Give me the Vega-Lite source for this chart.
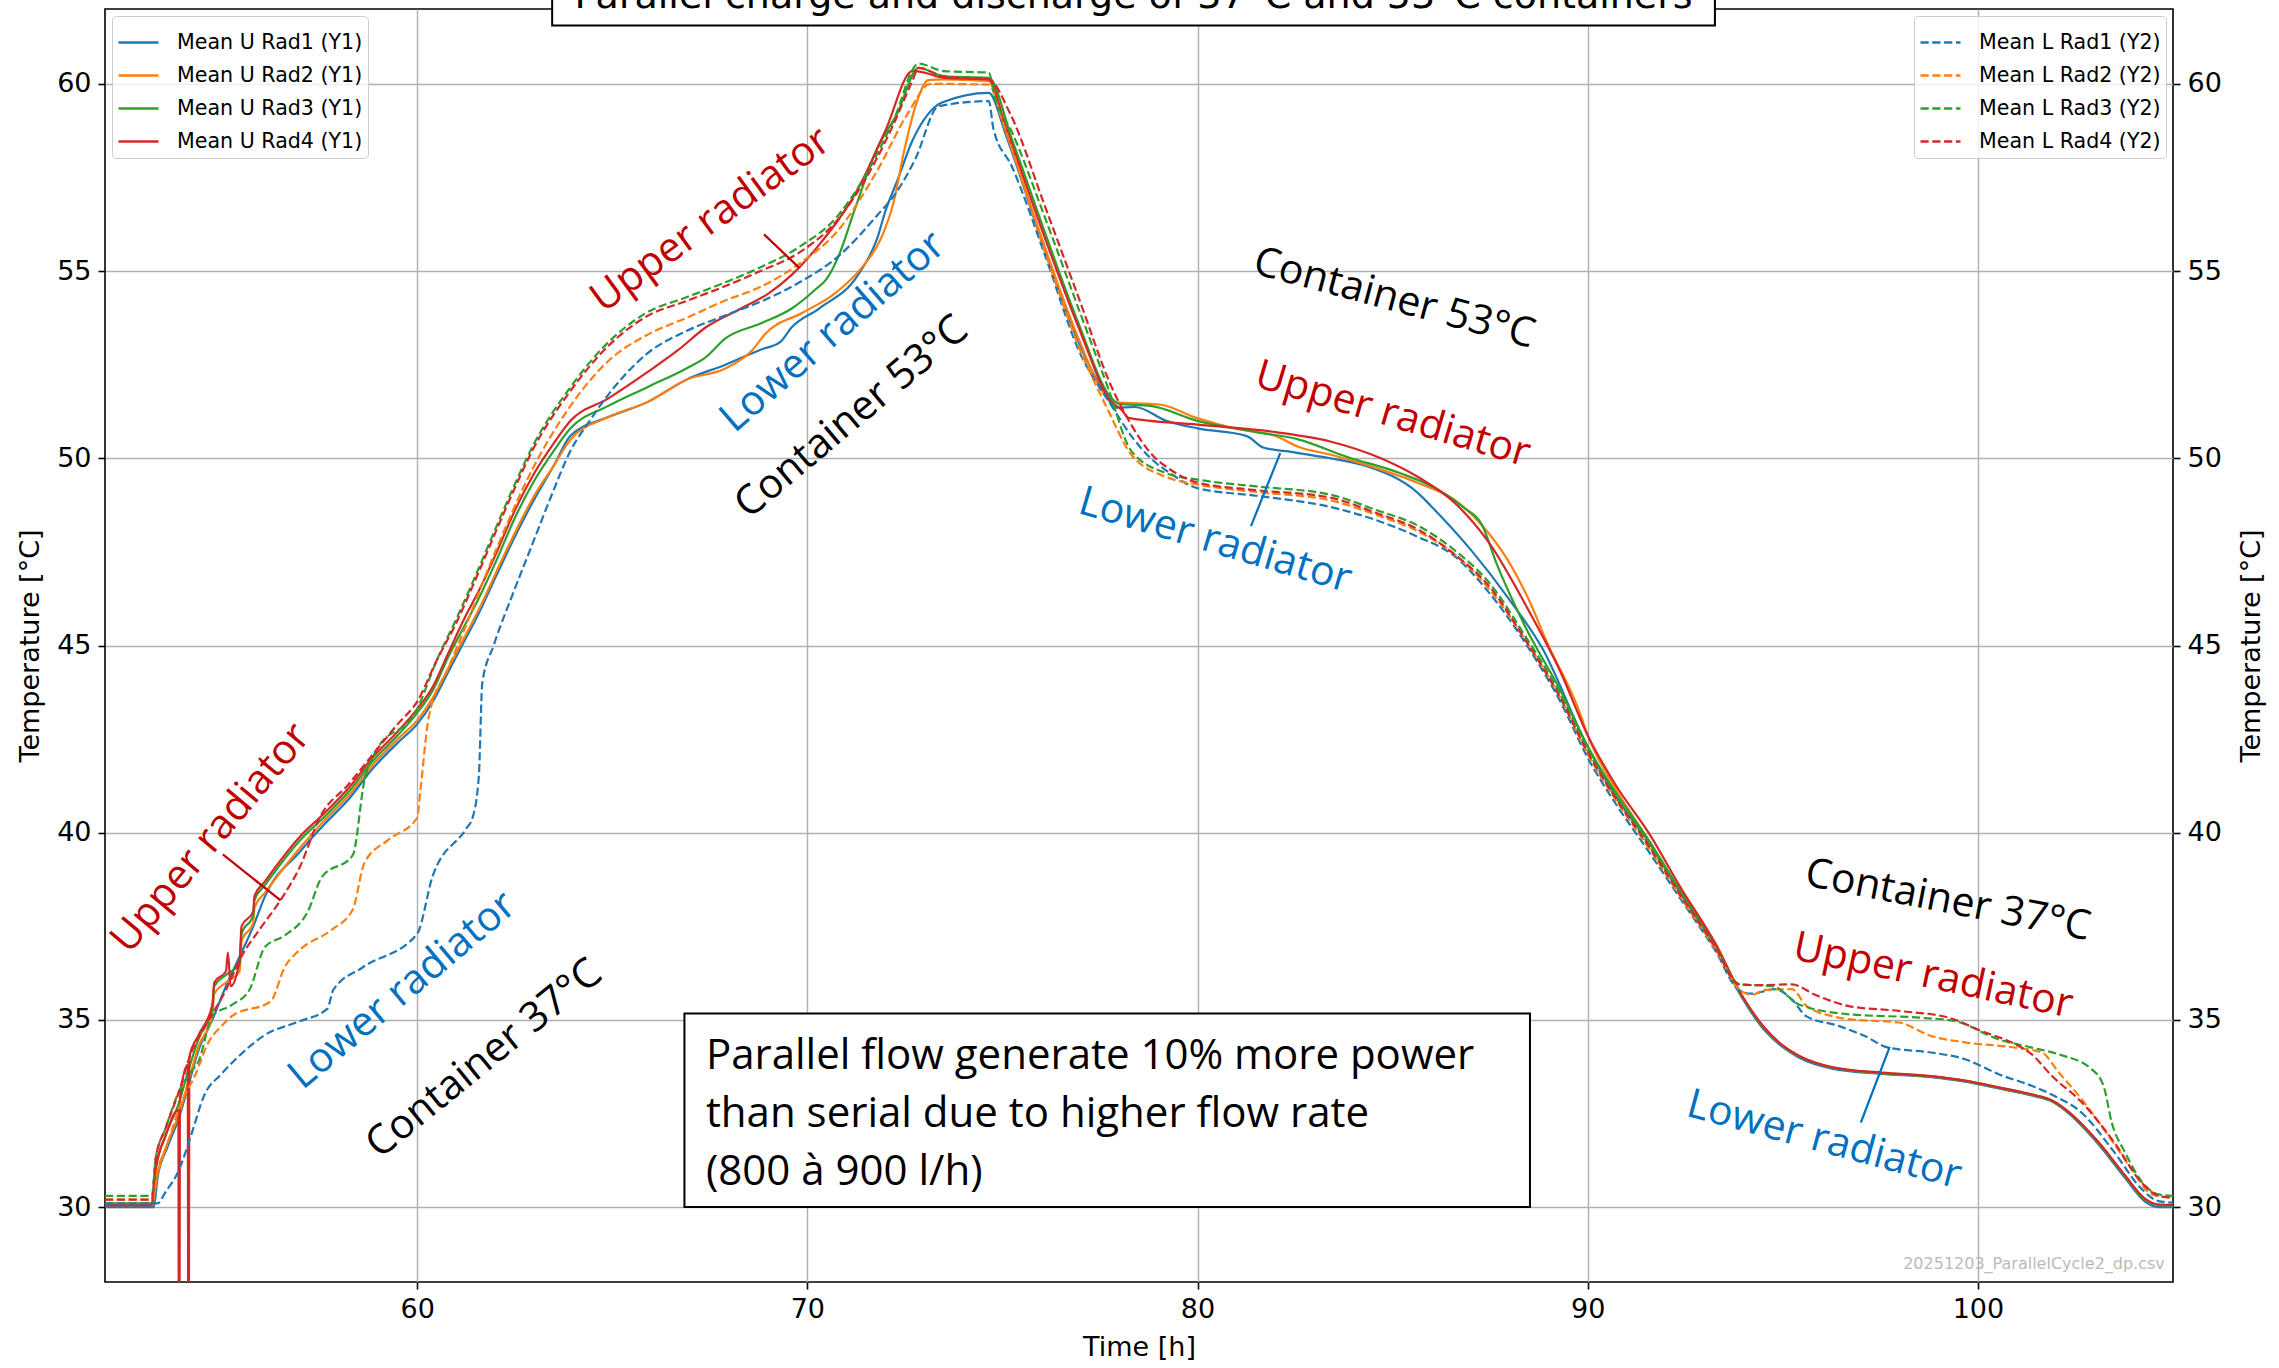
{
  "$schema": "https://vega.github.io/schema/vega-lite/v6.json",
  "width": 2068,
  "height": 1273,
  "autosize": {"type": "none"},
  "padding": {"left": 105, "top": 9, "right": 106, "bottom": 86},
  "background": "white",
  "config": {
    "view": {"stroke": "black", "strokeWidth": 1.6},
    "axis": {"labelFont": "DejaVu Sans", "titleFont": "DejaVu Sans", "labelFontSize": 27, "titleFontSize": 27, "titleFontWeight": "normal", "labelColor": "#000", "titleColor": "#000", "tickColor": "#000", "tickSize": 7, "tickWidth": 1.6, "domain": false, "gridColor": "#b0b0b0", "gridWidth": 1.4, "labelPadding": 7},
    "legend": {"labelFont": "DejaVu Sans", "labelFontSize": 20.6, "labelColor": "#000", "labelLimit": 0, "fillColor": "rgba(255,255,255,0.8)", "strokeColor": "#cccccc", "padding": 5, "cornerRadius": 4, "symbolType": "stroke", "symbolSize": 1600, "symbolStrokeWidth": 2.5, "labelOffset": 17, "rowPadding": -6, "offset": 7, "title": null}
  },
  "datasets": {
    "upper": [
      {"series":"Mean U Rad1 (Y1)","time":52,"temp":30.0},{"series":"Mean U Rad1 (Y1)","time":53.25,"temp":30.0},{"series":"Mean U Rad1 (Y1)","time":53.35,"temp":30.8},{"series":"Mean U Rad1 (Y1)","time":53.6,"temp":31.6},{"series":"Mean U Rad1 (Y1)","time":53.9,"temp":32.4},{"series":"Mean U Rad1 (Y1)","time":54.15,"temp":33.3},{"series":"Mean U Rad1 (Y1)","time":54.4,"temp":34.2},{"series":"Mean U Rad1 (Y1)","time":54.75,"temp":35.0},{"series":"Mean U Rad1 (Y1)","time":55.1,"temp":35.9},{"series":"Mean U Rad1 (Y1)","time":55.5,"temp":36.8},{"series":"Mean U Rad1 (Y1)","time":55.8,"temp":37.5},{"series":"Mean U Rad1 (Y1)","time":56.1,"temp":38.3},{"series":"Mean U Rad1 (Y1)","time":57.0,"temp":39.5},{"series":"Mean U Rad1 (Y1)","time":57.6,"temp":40.2},{"series":"Mean U Rad1 (Y1)","time":58.25,"temp":40.9},{"series":"Mean U Rad1 (Y1)","time":58.85,"temp":41.7},{"series":"Mean U Rad1 (Y1)","time":59.5,"temp":42.4},{"series":"Mean U Rad1 (Y1)","time":60.0,"temp":42.9},{"series":"Mean U Rad1 (Y1)","time":60.4,"temp":43.5},{"series":"Mean U Rad1 (Y1)","time":60.8,"temp":44.3},{"series":"Mean U Rad1 (Y1)","time":61.2,"temp":45.1},{"series":"Mean U Rad1 (Y1)","time":61.6,"temp":45.9},{"series":"Mean U Rad1 (Y1)","time":62.0,"temp":46.8},{"series":"Mean U Rad1 (Y1)","time":62.5,"temp":47.9},{"series":"Mean U Rad1 (Y1)","time":63.0,"temp":48.9},{"series":"Mean U Rad1 (Y1)","time":63.5,"temp":49.8},{"series":"Mean U Rad1 (Y1)","time":63.93,"temp":50.6},{"series":"Mean U Rad1 (Y1)","time":64.9,"temp":51.1},{"series":"Mean U Rad1 (Y1)","time":65.9,"temp":51.5},{"series":"Mean U Rad1 (Y1)","time":66.9,"temp":52.1},{"series":"Mean U Rad1 (Y1)","time":67.9,"temp":52.5},{"series":"Mean U Rad1 (Y1)","time":68.8,"temp":52.9},{"series":"Mean U Rad1 (Y1)","time":69.3,"temp":53.1},{"series":"Mean U Rad1 (Y1)","time":69.6,"temp":53.5},{"series":"Mean U Rad1 (Y1)","time":70.3,"temp":54.0},{"series":"Mean U Rad1 (Y1)","time":71.3,"temp":54.9},{"series":"Mean U Rad1 (Y1)","time":71.8,"temp":55.9},{"series":"Mean U Rad1 (Y1)","time":72.0,"temp":56.6},{"series":"Mean U Rad1 (Y1)","time":72.3,"temp":57.4},{"series":"Mean U Rad1 (Y1)","time":72.7,"temp":58.5},{"series":"Mean U Rad1 (Y1)","time":73.1,"temp":59.2},{"series":"Mean U Rad1 (Y1)","time":73.45,"temp":59.5},{"series":"Mean U Rad1 (Y1)","time":74.65,"temp":59.76},{"series":"Mean U Rad1 (Y1)","time":75.1,"temp":58.6},{"series":"Mean U Rad1 (Y1)","time":76.1,"temp":55.5},{"series":"Mean U Rad1 (Y1)","time":76.95,"temp":53.1},{"series":"Mean U Rad1 (Y1)","time":77.7,"temp":51.6},{"series":"Mean U Rad1 (Y1)","time":77.87,"temp":51.35},{"series":"Mean U Rad1 (Y1)","time":78.4,"temp":51.37},{"series":"Mean U Rad1 (Y1)","time":79.2,"temp":51.0},{"series":"Mean U Rad1 (Y1)","time":80.0,"temp":50.8},{"series":"Mean U Rad1 (Y1)","time":81.25,"temp":50.6},{"series":"Mean U Rad1 (Y1)","time":81.7,"temp":50.28},{"series":"Mean U Rad1 (Y1)","time":82.26,"temp":50.19},{"series":"Mean U Rad1 (Y1)","time":83.4,"temp":50.0},{"series":"Mean U Rad1 (Y1)","time":84.3,"temp":49.8},{"series":"Mean U Rad1 (Y1)","time":85.65,"temp":49.07},{"series":"Mean U Rad1 (Y1)","time":86.1,"temp":48.6},{"series":"Mean U Rad1 (Y1)","time":87.0,"temp":47.56},{"series":"Mean U Rad1 (Y1)","time":87.94,"temp":46.3},{"series":"Mean U Rad1 (Y1)","time":88.85,"temp":44.9},{"series":"Mean U Rad1 (Y1)","time":89.95,"temp":42.4},{"series":"Mean U Rad1 (Y1)","time":90.7,"temp":41.0},{"series":"Mean U Rad1 (Y1)","time":91.56,"temp":39.75},{"series":"Mean U Rad1 (Y1)","time":92.4,"temp":38.35},{"series":"Mean U Rad1 (Y1)","time":93.27,"temp":36.95},{"series":"Mean U Rad1 (Y1)","time":93.95,"temp":35.6},{"series":"Mean U Rad1 (Y1)","time":94.55,"temp":34.7},{"series":"Mean U Rad1 (Y1)","time":95.0,"temp":34.27},{"series":"Mean U Rad1 (Y1)","time":95.4,"temp":34.0},{"series":"Mean U Rad1 (Y1)","time":96.26,"temp":33.7},{"series":"Mean U Rad1 (Y1)","time":97.54,"temp":33.56},{"series":"Mean U Rad1 (Y1)","time":98.8,"temp":33.47},{"series":"Mean U Rad1 (Y1)","time":99.67,"temp":33.35},{"series":"Mean U Rad1 (Y1)","time":100.53,"temp":33.17},{"series":"Mean U Rad1 (Y1)","time":101.38,"temp":32.98},{"series":"Mean U Rad1 (Y1)","time":101.9,"temp":32.82},{"series":"Mean U Rad1 (Y1)","time":102.24,"temp":32.58},{"series":"Mean U Rad1 (Y1)","time":103.09,"temp":31.68},{"series":"Mean U Rad1 (Y1)","time":103.77,"temp":30.78},{"series":"Mean U Rad1 (Y1)","time":104.29,"temp":30.14},{"series":"Mean U Rad1 (Y1)","time":104.63,"temp":30.0},{"series":"Mean U Rad1 (Y1)","time":105.0,"temp":30.0},

      {"series":"Mean U Rad2 (Y1)","time":52,"temp":30.05},{"series":"Mean U Rad2 (Y1)","time":53.2,"temp":30.05},{"series":"Mean U Rad2 (Y1)","time":53.35,"temp":30.9},{"series":"Mean U Rad2 (Y1)","time":53.6,"temp":31.7},{"series":"Mean U Rad2 (Y1)","time":53.9,"temp":32.5},{"series":"Mean U Rad2 (Y1)","time":54.15,"temp":33.4},{"series":"Mean U Rad2 (Y1)","time":54.4,"temp":34.3},{"series":"Mean U Rad2 (Y1)","time":54.75,"temp":35.1},{"series":"Mean U Rad2 (Y1)","time":54.8,"temp":35.7},{"series":"Mean U Rad2 (Y1)","time":55.1,"temp":36.0},{"series":"Mean U Rad2 (Y1)","time":55.45,"temp":36.3},{"series":"Mean U Rad2 (Y1)","time":55.5,"temp":37.1},{"series":"Mean U Rad2 (Y1)","time":55.8,"temp":37.6},{"series":"Mean U Rad2 (Y1)","time":55.83,"temp":38.0},{"series":"Mean U Rad2 (Y1)","time":56.1,"temp":38.4},{"series":"Mean U Rad2 (Y1)","time":57.0,"temp":39.6},{"series":"Mean U Rad2 (Y1)","time":57.6,"temp":40.3},{"series":"Mean U Rad2 (Y1)","time":58.25,"temp":41.0},{"series":"Mean U Rad2 (Y1)","time":58.85,"temp":41.8},{"series":"Mean U Rad2 (Y1)","time":59.5,"temp":42.5},{"series":"Mean U Rad2 (Y1)","time":60.0,"temp":43.0},{"series":"Mean U Rad2 (Y1)","time":60.4,"temp":43.6},{"series":"Mean U Rad2 (Y1)","time":60.8,"temp":44.4},{"series":"Mean U Rad2 (Y1)","time":61.2,"temp":45.2},{"series":"Mean U Rad2 (Y1)","time":61.6,"temp":46.0},{"series":"Mean U Rad2 (Y1)","time":62.0,"temp":46.9},{"series":"Mean U Rad2 (Y1)","time":62.5,"temp":48.0},{"series":"Mean U Rad2 (Y1)","time":63.0,"temp":49.0},{"series":"Mean U Rad2 (Y1)","time":63.5,"temp":49.8},{"series":"Mean U Rad2 (Y1)","time":63.93,"temp":50.5},{"series":"Mean U Rad2 (Y1)","time":64.9,"temp":51.1},{"series":"Mean U Rad2 (Y1)","time":65.9,"temp":51.5},{"series":"Mean U Rad2 (Y1)","time":66.9,"temp":52.1},{"series":"Mean U Rad2 (Y1)","time":67.9,"temp":52.4},{"series":"Mean U Rad2 (Y1)","time":68.6,"temp":52.9},{"series":"Mean U Rad2 (Y1)","time":68.9,"temp":53.3},{"series":"Mean U Rad2 (Y1)","time":69.9,"temp":53.9},{"series":"Mean U Rad2 (Y1)","time":70.7,"temp":54.4},{"series":"Mean U Rad2 (Y1)","time":71.4,"temp":55.1},{"series":"Mean U Rad2 (Y1)","time":71.9,"temp":55.9},{"series":"Mean U Rad2 (Y1)","time":72.2,"temp":56.8},{"series":"Mean U Rad2 (Y1)","time":72.5,"temp":58.3},{"series":"Mean U Rad2 (Y1)","time":72.8,"temp":59.5},{"series":"Mean U Rad2 (Y1)","time":73.1,"temp":60.1},{"series":"Mean U Rad2 (Y1)","time":73.5,"temp":60.12},{"series":"Mean U Rad2 (Y1)","time":74.65,"temp":60.07},{"series":"Mean U Rad2 (Y1)","time":75.1,"temp":58.7},{"series":"Mean U Rad2 (Y1)","time":76.1,"temp":55.6},{"series":"Mean U Rad2 (Y1)","time":76.95,"temp":53.2},{"series":"Mean U Rad2 (Y1)","time":77.7,"temp":51.6},{"series":"Mean U Rad2 (Y1)","time":77.87,"temp":51.5},{"series":"Mean U Rad2 (Y1)","time":79.06,"temp":51.43},{"series":"Mean U Rad2 (Y1)","time":79.97,"temp":51.08},{"series":"Mean U Rad2 (Y1)","time":81.07,"temp":50.77},{"series":"Mean U Rad2 (Y1)","time":81.99,"temp":50.6},{"series":"Mean U Rad2 (Y1)","time":82.6,"temp":50.3},{"series":"Mean U Rad2 (Y1)","time":83.4,"temp":50.1},{"series":"Mean U Rad2 (Y1)","time":84.3,"temp":49.83},{"series":"Mean U Rad2 (Y1)","time":85.65,"temp":49.34},{"series":"Mean U Rad2 (Y1)","time":86.57,"temp":48.9},{"series":"Mean U Rad2 (Y1)","time":87.3,"temp":48.2},{"series":"Mean U Rad2 (Y1)","time":87.94,"temp":47.3},{"series":"Mean U Rad2 (Y1)","time":88.5,"temp":46.2},{"series":"Mean U Rad2 (Y1)","time":88.95,"temp":45.1},{"series":"Mean U Rad2 (Y1)","time":89.8,"temp":43.2},{"series":"Mean U Rad2 (Y1)","time":90.0,"temp":42.6},{"series":"Mean U Rad2 (Y1)","time":90.7,"temp":41.2},{"series":"Mean U Rad2 (Y1)","time":91.56,"temp":39.8},{"series":"Mean U Rad2 (Y1)","time":92.4,"temp":38.4},{"series":"Mean U Rad2 (Y1)","time":93.27,"temp":37.0},{"series":"Mean U Rad2 (Y1)","time":93.95,"temp":35.64},{"series":"Mean U Rad2 (Y1)","time":94.55,"temp":34.75},{"series":"Mean U Rad2 (Y1)","time":95.0,"temp":34.3},{"series":"Mean U Rad2 (Y1)","time":95.4,"temp":34.04},{"series":"Mean U Rad2 (Y1)","time":96.26,"temp":33.73},{"series":"Mean U Rad2 (Y1)","time":97.54,"temp":33.58},{"series":"Mean U Rad2 (Y1)","time":98.8,"temp":33.49},{"series":"Mean U Rad2 (Y1)","time":99.67,"temp":33.37},{"series":"Mean U Rad2 (Y1)","time":100.53,"temp":33.19},{"series":"Mean U Rad2 (Y1)","time":101.38,"temp":33.0},{"series":"Mean U Rad2 (Y1)","time":101.9,"temp":32.84},{"series":"Mean U Rad2 (Y1)","time":102.24,"temp":32.6},{"series":"Mean U Rad2 (Y1)","time":103.09,"temp":31.72},{"series":"Mean U Rad2 (Y1)","time":103.77,"temp":30.83},{"series":"Mean U Rad2 (Y1)","time":104.29,"temp":30.2},{"series":"Mean U Rad2 (Y1)","time":104.63,"temp":30.06},{"series":"Mean U Rad2 (Y1)","time":105.0,"temp":30.05},

      {"series":"Mean U Rad3 (Y1)","time":52,"temp":30.1},{"series":"Mean U Rad3 (Y1)","time":53.2,"temp":30.1},{"series":"Mean U Rad3 (Y1)","time":53.3,"temp":31.0},{"series":"Mean U Rad3 (Y1)","time":53.55,"temp":31.9},{"series":"Mean U Rad3 (Y1)","time":53.9,"temp":32.8},{"series":"Mean U Rad3 (Y1)","time":54.15,"temp":33.7},{"series":"Mean U Rad3 (Y1)","time":54.4,"temp":34.5},{"series":"Mean U Rad3 (Y1)","time":54.75,"temp":35.3},{"series":"Mean U Rad3 (Y1)","time":54.8,"temp":35.9},{"series":"Mean U Rad3 (Y1)","time":55.1,"temp":36.2},{"series":"Mean U Rad3 (Y1)","time":55.45,"temp":36.5},{"series":"Mean U Rad3 (Y1)","time":55.5,"temp":37.3},{"series":"Mean U Rad3 (Y1)","time":55.8,"temp":37.8},{"series":"Mean U Rad3 (Y1)","time":55.83,"temp":38.2},{"series":"Mean U Rad3 (Y1)","time":56.1,"temp":38.6},{"series":"Mean U Rad3 (Y1)","time":57.0,"temp":39.8},{"series":"Mean U Rad3 (Y1)","time":57.6,"temp":40.4},{"series":"Mean U Rad3 (Y1)","time":58.25,"temp":41.1},{"series":"Mean U Rad3 (Y1)","time":58.85,"temp":41.9},{"series":"Mean U Rad3 (Y1)","time":59.5,"temp":42.6},{"series":"Mean U Rad3 (Y1)","time":60.0,"temp":43.2},{"series":"Mean U Rad3 (Y1)","time":60.4,"temp":43.8},{"series":"Mean U Rad3 (Y1)","time":60.8,"temp":44.7},{"series":"Mean U Rad3 (Y1)","time":61.2,"temp":45.5},{"series":"Mean U Rad3 (Y1)","time":61.6,"temp":46.3},{"series":"Mean U Rad3 (Y1)","time":62.0,"temp":47.2},{"series":"Mean U Rad3 (Y1)","time":62.5,"temp":48.4},{"series":"Mean U Rad3 (Y1)","time":63.0,"temp":49.4},{"series":"Mean U Rad3 (Y1)","time":63.5,"temp":50.2},{"series":"Mean U Rad3 (Y1)","time":63.93,"temp":50.8},{"series":"Mean U Rad3 (Y1)","time":64.9,"temp":51.4},{"series":"Mean U Rad3 (Y1)","time":65.9,"temp":51.9},{"series":"Mean U Rad3 (Y1)","time":66.9,"temp":52.4},{"series":"Mean U Rad3 (Y1)","time":67.4,"temp":52.7},{"series":"Mean U Rad3 (Y1)","time":67.9,"temp":53.2},{"series":"Mean U Rad3 (Y1)","time":68.8,"temp":53.6},{"series":"Mean U Rad3 (Y1)","time":69.6,"temp":54.0},{"series":"Mean U Rad3 (Y1)","time":70.2,"temp":54.5},{"series":"Mean U Rad3 (Y1)","time":70.5,"temp":54.8},{"series":"Mean U Rad3 (Y1)","time":70.8,"temp":55.4},{"series":"Mean U Rad3 (Y1)","time":71.2,"temp":56.6},{"series":"Mean U Rad3 (Y1)","time":71.8,"temp":58.3},{"series":"Mean U Rad3 (Y1)","time":72.3,"temp":59.2},{"series":"Mean U Rad3 (Y1)","time":72.85,"temp":60.43},{"series":"Mean U Rad3 (Y1)","time":73.5,"temp":60.2},{"series":"Mean U Rad3 (Y1)","time":74.65,"temp":60.16},{"series":"Mean U Rad3 (Y1)","time":75.25,"temp":58.5},{"series":"Mean U Rad3 (Y1)","time":76.1,"temp":56.0},{"series":"Mean U Rad3 (Y1)","time":76.95,"temp":53.6},{"series":"Mean U Rad3 (Y1)","time":77.8,"temp":51.6},{"series":"Mean U Rad3 (Y1)","time":78.0,"temp":51.45},{"series":"Mean U Rad3 (Y1)","time":78.8,"temp":51.4},{"series":"Mean U Rad3 (Y1)","time":80.0,"temp":51.0},{"series":"Mean U Rad3 (Y1)","time":81.5,"temp":50.7},{"series":"Mean U Rad3 (Y1)","time":82.6,"temp":50.5},{"series":"Mean U Rad3 (Y1)","time":83.8,"temp":50.05},{"series":"Mean U Rad3 (Y1)","time":85.2,"temp":49.6},{"series":"Mean U Rad3 (Y1)","time":86.1,"temp":49.2},{"series":"Mean U Rad3 (Y1)","time":86.8,"temp":48.7},{"series":"Mean U Rad3 (Y1)","time":87.3,"temp":48.2},{"series":"Mean U Rad3 (Y1)","time":87.66,"temp":47.2},{"series":"Mean U Rad3 (Y1)","time":88.4,"temp":45.5},{"series":"Mean U Rad3 (Y1)","time":89.3,"temp":43.8},{"series":"Mean U Rad3 (Y1)","time":90.0,"temp":42.3},{"series":"Mean U Rad3 (Y1)","time":90.7,"temp":41.1},{"series":"Mean U Rad3 (Y1)","time":91.56,"temp":39.8},{"series":"Mean U Rad3 (Y1)","time":92.4,"temp":38.4},{"series":"Mean U Rad3 (Y1)","time":93.27,"temp":37.0},{"series":"Mean U Rad3 (Y1)","time":93.95,"temp":35.64},{"series":"Mean U Rad3 (Y1)","time":94.55,"temp":34.75},{"series":"Mean U Rad3 (Y1)","time":95.0,"temp":34.3},{"series":"Mean U Rad3 (Y1)","time":95.4,"temp":34.04},{"series":"Mean U Rad3 (Y1)","time":96.26,"temp":33.73},{"series":"Mean U Rad3 (Y1)","time":97.54,"temp":33.58},{"series":"Mean U Rad3 (Y1)","time":98.8,"temp":33.49},{"series":"Mean U Rad3 (Y1)","time":99.67,"temp":33.37},{"series":"Mean U Rad3 (Y1)","time":100.53,"temp":33.19},{"series":"Mean U Rad3 (Y1)","time":101.38,"temp":33.0},{"series":"Mean U Rad3 (Y1)","time":101.9,"temp":32.84},{"series":"Mean U Rad3 (Y1)","time":102.24,"temp":32.6},{"series":"Mean U Rad3 (Y1)","time":103.09,"temp":31.72},{"series":"Mean U Rad3 (Y1)","time":103.77,"temp":30.83},{"series":"Mean U Rad3 (Y1)","time":104.29,"temp":30.2},{"series":"Mean U Rad3 (Y1)","time":104.63,"temp":30.06},{"series":"Mean U Rad3 (Y1)","time":105.0,"temp":30.05},

      {"series":"Mean U Rad4 (Y1)","time":52,"temp":30.05},{"series":"Mean U Rad4 (Y1)","time":53.2,"temp":30.05},{"series":"Mean U Rad4 (Y1)","time":53.3,"temp":31.0},{"series":"Mean U Rad4 (Y1)","time":53.55,"temp":31.9},{"series":"Mean U Rad4 (Y1)","time":53.88,"temp":32.6},{"series":"Mean U Rad4 (Y1)","time":53.9,"temp":20},{"series":"Mean U Rad4 (Y1)","time":53.92,"temp":32.9},{"series":"Mean U Rad4 (Y1)","time":54.12,"temp":33.8},{"series":"Mean U Rad4 (Y1)","time":54.14,"temp":20},{"series":"Mean U Rad4 (Y1)","time":54.16,"temp":34.0},{"series":"Mean U Rad4 (Y1)","time":54.4,"temp":34.6},{"series":"Mean U Rad4 (Y1)","time":54.75,"temp":35.4},{"series":"Mean U Rad4 (Y1)","time":54.8,"temp":36.0},{"series":"Mean U Rad4 (Y1)","time":55.1,"temp":36.3},{"series":"Mean U Rad4 (Y1)","time":55.15,"temp":36.8},{"series":"Mean U Rad4 (Y1)","time":55.22,"temp":35.9},{"series":"Mean U Rad4 (Y1)","time":55.45,"temp":36.6},{"series":"Mean U Rad4 (Y1)","time":55.5,"temp":37.5},{"series":"Mean U Rad4 (Y1)","time":55.8,"temp":37.9},{"series":"Mean U Rad4 (Y1)","time":55.83,"temp":38.3},{"series":"Mean U Rad4 (Y1)","time":56.1,"temp":38.7},{"series":"Mean U Rad4 (Y1)","time":57.0,"temp":39.9},{"series":"Mean U Rad4 (Y1)","time":57.6,"temp":40.5},{"series":"Mean U Rad4 (Y1)","time":58.25,"temp":41.2},{"series":"Mean U Rad4 (Y1)","time":58.85,"temp":42.0},{"series":"Mean U Rad4 (Y1)","time":59.5,"temp":42.7},{"series":"Mean U Rad4 (Y1)","time":60.0,"temp":43.3},{"series":"Mean U Rad4 (Y1)","time":60.4,"temp":43.9},{"series":"Mean U Rad4 (Y1)","time":60.8,"temp":44.8},{"series":"Mean U Rad4 (Y1)","time":61.2,"temp":45.7},{"series":"Mean U Rad4 (Y1)","time":61.6,"temp":46.5},{"series":"Mean U Rad4 (Y1)","time":62.0,"temp":47.4},{"series":"Mean U Rad4 (Y1)","time":62.5,"temp":48.6},{"series":"Mean U Rad4 (Y1)","time":63.0,"temp":49.6},{"series":"Mean U Rad4 (Y1)","time":63.5,"temp":50.4},{"series":"Mean U Rad4 (Y1)","time":63.93,"temp":51.0},{"series":"Mean U Rad4 (Y1)","time":64.9,"temp":51.6},{"series":"Mean U Rad4 (Y1)","time":65.9,"temp":52.3},{"series":"Mean U Rad4 (Y1)","time":66.7,"temp":52.9},{"series":"Mean U Rad4 (Y1)","time":67.4,"temp":53.5},{"series":"Mean U Rad4 (Y1)","time":68.3,"temp":54.0},{"series":"Mean U Rad4 (Y1)","time":69.0,"temp":54.4},{"series":"Mean U Rad4 (Y1)","time":69.6,"temp":54.9},{"series":"Mean U Rad4 (Y1)","time":70.3,"temp":55.7},{"series":"Mean U Rad4 (Y1)","time":71.3,"temp":57.2},{"series":"Mean U Rad4 (Y1)","time":72.0,"temp":58.75},{"series":"Mean U Rad4 (Y1)","time":72.7,"temp":60.35},{"series":"Mean U Rad4 (Y1)","time":73.0,"temp":60.3},{"series":"Mean U Rad4 (Y1)","time":73.5,"temp":60.16},{"series":"Mean U Rad4 (Y1)","time":74.65,"temp":60.12},{"series":"Mean U Rad4 (Y1)","time":75.07,"temp":58.9},{"series":"Mean U Rad4 (Y1)","time":76.1,"temp":55.85},{"series":"Mean U Rad4 (Y1)","time":76.95,"temp":53.5},{"series":"Mean U Rad4 (Y1)","time":77.8,"temp":51.5},{"series":"Mean U Rad4 (Y1)","time":78.05,"temp":51.3},{"series":"Mean U Rad4 (Y1)","time":78.23,"temp":51.08},{"series":"Mean U Rad4 (Y1)","time":80.0,"temp":50.9},{"series":"Mean U Rad4 (Y1)","time":82.0,"temp":50.7},{"series":"Mean U Rad4 (Y1)","time":83.4,"temp":50.45},{"series":"Mean U Rad4 (Y1)","time":84.7,"temp":50.0},{"series":"Mean U Rad4 (Y1)","time":85.65,"temp":49.5},{"series":"Mean U Rad4 (Y1)","time":86.6,"temp":48.8},{"series":"Mean U Rad4 (Y1)","time":87.5,"temp":47.7},{"series":"Mean U Rad4 (Y1)","time":88.4,"temp":46.1},{"series":"Mean U Rad4 (Y1)","time":89.3,"temp":44.3},{"series":"Mean U Rad4 (Y1)","time":90.0,"temp":42.6},{"series":"Mean U Rad4 (Y1)","time":90.7,"temp":41.3},{"series":"Mean U Rad4 (Y1)","time":91.56,"temp":40.0},{"series":"Mean U Rad4 (Y1)","time":92.4,"temp":38.5},{"series":"Mean U Rad4 (Y1)","time":93.27,"temp":37.05},{"series":"Mean U Rad4 (Y1)","time":93.95,"temp":35.66},{"series":"Mean U Rad4 (Y1)","time":94.55,"temp":34.77},{"series":"Mean U Rad4 (Y1)","time":95.0,"temp":34.32},{"series":"Mean U Rad4 (Y1)","time":95.4,"temp":34.05},{"series":"Mean U Rad4 (Y1)","time":96.26,"temp":33.74},{"series":"Mean U Rad4 (Y1)","time":97.54,"temp":33.59},{"series":"Mean U Rad4 (Y1)","time":98.8,"temp":33.5},{"series":"Mean U Rad4 (Y1)","time":99.67,"temp":33.38},{"series":"Mean U Rad4 (Y1)","time":100.53,"temp":33.2},{"series":"Mean U Rad4 (Y1)","time":101.38,"temp":33.01},{"series":"Mean U Rad4 (Y1)","time":101.9,"temp":32.85},{"series":"Mean U Rad4 (Y1)","time":102.24,"temp":32.62},{"series":"Mean U Rad4 (Y1)","time":103.09,"temp":31.74},{"series":"Mean U Rad4 (Y1)","time":103.77,"temp":30.85},{"series":"Mean U Rad4 (Y1)","time":104.29,"temp":30.22},{"series":"Mean U Rad4 (Y1)","time":104.63,"temp":30.07},{"series":"Mean U Rad4 (Y1)","time":105.0,"temp":30.06}
    ],
    "lower": [
      {"series":"Mean L Rad1 (Y2)","time":52,"temp":30.1},{"series":"Mean L Rad1 (Y2)","time":53.35,"temp":30.1},{"series":"Mean L Rad1 (Y2)","time":53.55,"temp":30.4},{"series":"Mean L Rad1 (Y2)","time":53.9,"temp":31.0},{"series":"Mean L Rad1 (Y2)","time":54.2,"temp":31.9},{"series":"Mean L Rad1 (Y2)","time":54.55,"temp":33.0},{"series":"Mean L Rad1 (Y2)","time":54.98,"temp":33.55},{"series":"Mean L Rad1 (Y2)","time":55.4,"temp":34.0},{"series":"Mean L Rad1 (Y2)","time":56.1,"temp":34.6},{"series":"Mean L Rad1 (Y2)","time":56.95,"temp":34.95},{"series":"Mean L Rad1 (Y2)","time":57.7,"temp":35.3},{"series":"Mean L Rad1 (Y2)","time":57.85,"temp":35.8},{"series":"Mean L Rad1 (Y2)","time":58.6,"temp":36.4},{"series":"Mean L Rad1 (Y2)","time":60.0,"temp":37.3},{"series":"Mean L Rad1 (Y2)","time":60.4,"temp":38.85},{"series":"Mean L Rad1 (Y2)","time":61.25,"temp":40.1},{"series":"Mean L Rad1 (Y2)","time":61.42,"temp":40.4},{"series":"Mean L Rad1 (Y2)","time":61.58,"temp":41.5},{"series":"Mean L Rad1 (Y2)","time":61.67,"temp":44.0},{"series":"Mean L Rad1 (Y2)","time":61.96,"temp":45.0},{"series":"Mean L Rad1 (Y2)","time":62.46,"temp":46.4},{"series":"Mean L Rad1 (Y2)","time":62.95,"temp":47.7},{"series":"Mean L Rad1 (Y2)","time":63.44,"temp":49.0},{"series":"Mean L Rad1 (Y2)","time":63.93,"temp":50.2},{"series":"Mean L Rad1 (Y2)","time":64.42,"temp":51.0},{"series":"Mean L Rad1 (Y2)","time":64.9,"temp":51.7},{"series":"Mean L Rad1 (Y2)","time":65.9,"temp":52.8},{"series":"Mean L Rad1 (Y2)","time":66.9,"temp":53.4},{"series":"Mean L Rad1 (Y2)","time":67.86,"temp":53.8},{"series":"Mean L Rad1 (Y2)","time":68.84,"temp":54.2},{"series":"Mean L Rad1 (Y2)","time":69.8,"temp":54.7},{"series":"Mean L Rad1 (Y2)","time":70.8,"temp":55.4},{"series":"Mean L Rad1 (Y2)","time":71.8,"temp":56.5},{"series":"Mean L Rad1 (Y2)","time":72.28,"temp":57.1},{"series":"Mean L Rad1 (Y2)","time":72.77,"temp":58.0},{"series":"Mean L Rad1 (Y2)","time":73.36,"temp":59.4},{"series":"Mean L Rad1 (Y2)","time":74.65,"temp":59.54},{"series":"Mean L Rad1 (Y2)","time":74.77,"temp":58.8},{"series":"Mean L Rad1 (Y2)","time":75.24,"temp":57.8},{"series":"Mean L Rad1 (Y2)","time":76.1,"temp":55.4},{"series":"Mean L Rad1 (Y2)","time":76.95,"temp":52.9},{"series":"Mean L Rad1 (Y2)","time":77.8,"temp":51.4},{"series":"Mean L Rad1 (Y2)","time":78.3,"temp":50.6},{"series":"Mean L Rad1 (Y2)","time":78.8,"temp":50.0},{"series":"Mean L Rad1 (Y2)","time":79.3,"temp":49.6},{"series":"Mean L Rad1 (Y2)","time":80.0,"temp":49.2},{"series":"Mean L Rad1 (Y2)","time":81.5,"temp":49.0},{"series":"Mean L Rad1 (Y2)","time":83.4,"temp":48.7},{"series":"Mean L Rad1 (Y2)","time":84.55,"temp":48.36},{"series":"Mean L Rad1 (Y2)","time":85.65,"temp":47.9},{"series":"Mean L Rad1 (Y2)","time":86.57,"temp":47.4},{"series":"Mean L Rad1 (Y2)","time":87.48,"temp":46.4},{"series":"Mean L Rad1 (Y2)","time":88.4,"temp":45.07},{"series":"Mean L Rad1 (Y2)","time":89.3,"temp":43.5},{"series":"Mean L Rad1 (Y2)","time":90.0,"temp":42.0},{"series":"Mean L Rad1 (Y2)","time":90.7,"temp":40.8},{"series":"Mean L Rad1 (Y2)","time":91.56,"temp":39.5},{"series":"Mean L Rad1 (Y2)","time":92.4,"temp":38.2},{"series":"Mean L Rad1 (Y2)","time":93.27,"temp":36.85},{"series":"Mean L Rad1 (Y2)","time":93.87,"temp":35.8},{"series":"Mean L Rad1 (Y2)","time":94.2,"temp":35.7},{"series":"Mean L Rad1 (Y2)","time":94.8,"temp":35.82},{"series":"Mean L Rad1 (Y2)","time":95.23,"temp":35.55},{"series":"Mean L Rad1 (Y2)","time":95.6,"temp":35.1},{"series":"Mean L Rad1 (Y2)","time":96.43,"temp":34.84},{"series":"Mean L Rad1 (Y2)","time":97.1,"temp":34.57},{"series":"Mean L Rad1 (Y2)","time":97.7,"temp":34.26},{"series":"Mean L Rad1 (Y2)","time":98.8,"temp":34.13},{"series":"Mean L Rad1 (Y2)","time":99.67,"temp":33.95},{"series":"Mean L Rad1 (Y2)","time":100.53,"temp":33.55},{"series":"Mean L Rad1 (Y2)","time":101.38,"temp":33.24},{"series":"Mean L Rad1 (Y2)","time":101.9,"temp":33.0},{"series":"Mean L Rad1 (Y2)","time":102.66,"temp":32.52},{"series":"Mean L Rad1 (Y2)","time":103.5,"temp":31.46},{"series":"Mean L Rad1 (Y2)","time":104.2,"temp":30.48},{"series":"Mean L Rad1 (Y2)","time":104.63,"temp":30.16},{"series":"Mean L Rad1 (Y2)","time":105.0,"temp":30.12},

      {"series":"Mean L Rad2 (Y2)","time":52,"temp":30.2},{"series":"Mean L Rad2 (Y2)","time":53.2,"temp":30.2},{"series":"Mean L Rad2 (Y2)","time":53.35,"temp":31.0},{"series":"Mean L Rad2 (Y2)","time":53.55,"temp":31.55},{"series":"Mean L Rad2 (Y2)","time":53.98,"temp":32.85},{"series":"Mean L Rad2 (Y2)","time":54.3,"temp":33.5},{"series":"Mean L Rad2 (Y2)","time":54.65,"temp":34.4},{"series":"Mean L Rad2 (Y2)","time":55.0,"temp":34.85},{"series":"Mean L Rad2 (Y2)","time":55.25,"temp":35.1},{"series":"Mean L Rad2 (Y2)","time":56.25,"temp":35.5},{"series":"Mean L Rad2 (Y2)","time":56.6,"temp":36.4},{"series":"Mean L Rad2 (Y2)","time":56.97,"temp":36.85},{"series":"Mean L Rad2 (Y2)","time":57.8,"temp":37.4},{"series":"Mean L Rad2 (Y2)","time":58.35,"temp":37.95},{"series":"Mean L Rad2 (Y2)","time":58.65,"temp":39.2},{"series":"Mean L Rad2 (Y2)","time":59.25,"temp":39.8},{"series":"Mean L Rad2 (Y2)","time":60.0,"temp":40.4},{"series":"Mean L Rad2 (Y2)","time":60.08,"temp":41.1},{"series":"Mean L Rad2 (Y2)","time":60.3,"temp":43.1},{"series":"Mean L Rad2 (Y2)","time":60.8,"temp":44.4},{"series":"Mean L Rad2 (Y2)","time":61.2,"temp":45.4},{"series":"Mean L Rad2 (Y2)","time":61.96,"temp":47.4},{"series":"Mean L Rad2 (Y2)","time":62.95,"temp":49.7},{"series":"Mean L Rad2 (Y2)","time":63.93,"temp":51.4},{"series":"Mean L Rad2 (Y2)","time":64.9,"temp":52.6},{"series":"Mean L Rad2 (Y2)","time":65.9,"temp":53.3},{"series":"Mean L Rad2 (Y2)","time":66.9,"temp":53.75},{"series":"Mean L Rad2 (Y2)","time":67.86,"temp":54.2},{"series":"Mean L Rad2 (Y2)","time":68.84,"temp":54.6},{"series":"Mean L Rad2 (Y2)","time":69.8,"temp":55.2},{"series":"Mean L Rad2 (Y2)","time":70.8,"temp":56.1},{"series":"Mean L Rad2 (Y2)","time":71.8,"temp":57.7},{"series":"Mean L Rad2 (Y2)","time":72.57,"temp":59.2},{"series":"Mean L Rad2 (Y2)","time":73.16,"temp":60.0},{"series":"Mean L Rad2 (Y2)","time":74.65,"temp":59.98},{"series":"Mean L Rad2 (Y2)","time":75.0,"temp":59.0},{"series":"Mean L Rad2 (Y2)","time":76.1,"temp":55.5},{"series":"Mean L Rad2 (Y2)","time":76.95,"temp":53.0},{"series":"Mean L Rad2 (Y2)","time":77.7,"temp":51.3},{"series":"Mean L Rad2 (Y2)","time":78.3,"temp":50.1},{"series":"Mean L Rad2 (Y2)","time":79.2,"temp":49.5},{"series":"Mean L Rad2 (Y2)","time":80.0,"temp":49.3},{"series":"Mean L Rad2 (Y2)","time":81.5,"temp":49.1},{"series":"Mean L Rad2 (Y2)","time":83.4,"temp":48.88},{"series":"Mean L Rad2 (Y2)","time":84.55,"temp":48.5},{"series":"Mean L Rad2 (Y2)","time":85.65,"temp":48.05},{"series":"Mean L Rad2 (Y2)","time":86.57,"temp":47.45},{"series":"Mean L Rad2 (Y2)","time":87.48,"temp":46.5},{"series":"Mean L Rad2 (Y2)","time":88.4,"temp":45.15},{"series":"Mean L Rad2 (Y2)","time":89.3,"temp":43.6},{"series":"Mean L Rad2 (Y2)","time":90.0,"temp":42.1},{"series":"Mean L Rad2 (Y2)","time":90.7,"temp":40.9},{"series":"Mean L Rad2 (Y2)","time":91.56,"temp":39.6},{"series":"Mean L Rad2 (Y2)","time":92.4,"temp":38.25},{"series":"Mean L Rad2 (Y2)","time":93.27,"temp":36.9},{"series":"Mean L Rad2 (Y2)","time":93.9,"temp":35.8},{"series":"Mean L Rad2 (Y2)","time":94.2,"temp":35.67},{"series":"Mean L Rad2 (Y2)","time":94.55,"temp":35.8},{"series":"Mean L Rad2 (Y2)","time":95.23,"temp":35.82},{"series":"Mean L Rad2 (Y2)","time":95.6,"temp":35.38},{"series":"Mean L Rad2 (Y2)","time":96.26,"temp":35.1},{"series":"Mean L Rad2 (Y2)","time":96.69,"temp":35.02},{"series":"Mean L Rad2 (Y2)","time":97.97,"temp":34.93},{"series":"Mean L Rad2 (Y2)","time":98.8,"temp":34.57},{"series":"Mean L Rad2 (Y2)","time":99.67,"temp":34.4},{"series":"Mean L Rad2 (Y2)","time":100.96,"temp":34.26},{"series":"Mean L Rad2 (Y2)","time":101.64,"temp":34.13},{"series":"Mean L Rad2 (Y2)","time":102.07,"temp":33.6},{"series":"Mean L Rad2 (Y2)","time":102.66,"temp":32.88},{"series":"Mean L Rad2 (Y2)","time":103.35,"temp":31.9},{"series":"Mean L Rad2 (Y2)","time":103.95,"temp":31.0},{"series":"Mean L Rad2 (Y2)","time":104.46,"temp":30.34},{"series":"Mean L Rad2 (Y2)","time":105.0,"temp":30.25},

      {"series":"Mean L Rad3 (Y2)","time":52,"temp":30.3},{"series":"Mean L Rad3 (Y2)","time":53.2,"temp":30.3},{"series":"Mean L Rad3 (Y2)","time":53.3,"temp":31.3},{"series":"Mean L Rad3 (Y2)","time":53.55,"temp":32.1},{"series":"Mean L Rad3 (Y2)","time":53.9,"temp":33.1},{"series":"Mean L Rad3 (Y2)","time":54.2,"temp":33.6},{"series":"Mean L Rad3 (Y2)","time":54.4,"temp":33.9},{"series":"Mean L Rad3 (Y2)","time":54.75,"temp":35.1},{"series":"Mean L Rad3 (Y2)","time":55.25,"temp":35.4},{"series":"Mean L Rad3 (Y2)","time":55.7,"temp":35.8},{"series":"Mean L Rad3 (Y2)","time":56.1,"temp":36.95},{"series":"Mean L Rad3 (Y2)","time":56.6,"temp":37.25},{"series":"Mean L Rad3 (Y2)","time":57.2,"temp":37.9},{"series":"Mean L Rad3 (Y2)","time":57.55,"temp":38.8},{"series":"Mean L Rad3 (Y2)","time":58.35,"temp":39.4},{"series":"Mean L Rad3 (Y2)","time":58.65,"temp":41.4},{"series":"Mean L Rad3 (Y2)","time":58.9,"temp":42.1},{"series":"Mean L Rad3 (Y2)","time":60.0,"temp":43.3},{"series":"Mean L Rad3 (Y2)","time":60.5,"temp":44.6},{"series":"Mean L Rad3 (Y2)","time":61.0,"temp":45.7},{"series":"Mean L Rad3 (Y2)","time":61.47,"temp":46.8},{"series":"Mean L Rad3 (Y2)","time":62.0,"temp":48.1},{"series":"Mean L Rad3 (Y2)","time":62.5,"temp":49.3},{"series":"Mean L Rad3 (Y2)","time":62.95,"temp":50.3},{"series":"Mean L Rad3 (Y2)","time":63.93,"temp":51.9},{"series":"Mean L Rad3 (Y2)","time":64.9,"temp":53.1},{"series":"Mean L Rad3 (Y2)","time":65.9,"temp":53.9},{"series":"Mean L Rad3 (Y2)","time":66.9,"temp":54.3},{"series":"Mean L Rad3 (Y2)","time":67.9,"temp":54.7},{"series":"Mean L Rad3 (Y2)","time":68.8,"temp":55.1},{"series":"Mean L Rad3 (Y2)","time":69.8,"temp":55.65},{"series":"Mean L Rad3 (Y2)","time":70.8,"temp":56.5},{"series":"Mean L Rad3 (Y2)","time":71.4,"temp":57.4},{"series":"Mean L Rad3 (Y2)","time":72.2,"temp":59.0},{"series":"Mean L Rad3 (Y2)","time":72.85,"temp":60.54},{"series":"Mean L Rad3 (Y2)","time":73.5,"temp":60.34},{"series":"Mean L Rad3 (Y2)","time":74.65,"temp":60.3},{"series":"Mean L Rad3 (Y2)","time":74.8,"temp":59.67},{"series":"Mean L Rad3 (Y2)","time":75.25,"temp":58.7},{"series":"Mean L Rad3 (Y2)","time":76.1,"temp":56.4},{"series":"Mean L Rad3 (Y2)","time":76.95,"temp":54.0},{"series":"Mean L Rad3 (Y2)","time":77.7,"temp":51.9},{"series":"Mean L Rad3 (Y2)","time":78.3,"temp":50.2},{"series":"Mean L Rad3 (Y2)","time":79.2,"temp":49.6},{"series":"Mean L Rad3 (Y2)","time":80.0,"temp":49.43},{"series":"Mean L Rad3 (Y2)","time":81.5,"temp":49.25},{"series":"Mean L Rad3 (Y2)","time":83.4,"temp":49.03},{"series":"Mean L Rad3 (Y2)","time":84.55,"temp":48.63},{"series":"Mean L Rad3 (Y2)","time":85.65,"temp":48.2},{"series":"Mean L Rad3 (Y2)","time":86.57,"temp":47.56},{"series":"Mean L Rad3 (Y2)","time":87.48,"temp":46.67},{"series":"Mean L Rad3 (Y2)","time":88.4,"temp":45.25},{"series":"Mean L Rad3 (Y2)","time":89.3,"temp":43.7},{"series":"Mean L Rad3 (Y2)","time":90.0,"temp":42.2},{"series":"Mean L Rad3 (Y2)","time":90.7,"temp":41.0},{"series":"Mean L Rad3 (Y2)","time":91.56,"temp":39.7},{"series":"Mean L Rad3 (Y2)","time":92.4,"temp":38.35},{"series":"Mean L Rad3 (Y2)","time":93.27,"temp":36.97},{"series":"Mean L Rad3 (Y2)","time":93.9,"temp":35.95},{"series":"Mean L Rad3 (Y2)","time":94.75,"temp":35.9},{"series":"Mean L Rad3 (Y2)","time":95.4,"temp":35.42},{"series":"Mean L Rad3 (Y2)","time":96.7,"temp":35.15},{"series":"Mean L Rad3 (Y2)","time":98.5,"temp":35.06},{"series":"Mean L Rad3 (Y2)","time":99.4,"temp":34.97},{"series":"Mean L Rad3 (Y2)","time":100.53,"temp":34.48},{"series":"Mean L Rad3 (Y2)","time":101.38,"temp":34.26},{"series":"Mean L Rad3 (Y2)","time":102.07,"temp":34.08},{"series":"Mean L Rad3 (Y2)","time":102.92,"temp":33.68},{"series":"Mean L Rad3 (Y2)","time":103.22,"temp":33.24},{"series":"Mean L Rad3 (Y2)","time":103.43,"temp":32.26},{"series":"Mean L Rad3 (Y2)","time":103.77,"temp":31.46},{"series":"Mean L Rad3 (Y2)","time":104.29,"temp":30.57},{"series":"Mean L Rad3 (Y2)","time":104.63,"temp":30.34},{"series":"Mean L Rad3 (Y2)","time":105.0,"temp":30.3},

      {"series":"Mean L Rad4 (Y2)","time":52,"temp":30.2},{"series":"Mean L Rad4 (Y2)","time":53.2,"temp":30.2},{"series":"Mean L Rad4 (Y2)","time":53.3,"temp":31.3},{"series":"Mean L Rad4 (Y2)","time":53.55,"temp":32.1},{"series":"Mean L Rad4 (Y2)","time":53.9,"temp":33.1},{"series":"Mean L Rad4 (Y2)","time":54.2,"temp":34.1},{"series":"Mean L Rad4 (Y2)","time":54.55,"temp":34.8},{"series":"Mean L Rad4 (Y2)","time":55.1,"temp":35.8},{"series":"Mean L Rad4 (Y2)","time":55.5,"temp":36.7},{"series":"Mean L Rad4 (Y2)","time":55.95,"temp":37.4},{"series":"Mean L Rad4 (Y2)","time":56.5,"temp":38.2},{"series":"Mean L Rad4 (Y2)","time":57.0,"temp":39.1},{"series":"Mean L Rad4 (Y2)","time":57.5,"temp":40.4},{"series":"Mean L Rad4 (Y2)","time":58.25,"temp":41.3},{"series":"Mean L Rad4 (Y2)","time":58.95,"temp":42.2},{"series":"Mean L Rad4 (Y2)","time":59.5,"temp":42.9},{"series":"Mean L Rad4 (Y2)","time":60.0,"temp":43.5},{"series":"Mean L Rad4 (Y2)","time":60.5,"temp":44.6},{"series":"Mean L Rad4 (Y2)","time":61.0,"temp":45.6},{"series":"Mean L Rad4 (Y2)","time":61.47,"temp":46.7},{"series":"Mean L Rad4 (Y2)","time":62.0,"temp":48.0},{"series":"Mean L Rad4 (Y2)","time":62.5,"temp":49.2},{"series":"Mean L Rad4 (Y2)","time":62.95,"temp":50.2},{"series":"Mean L Rad4 (Y2)","time":63.93,"temp":51.8},{"series":"Mean L Rad4 (Y2)","time":64.9,"temp":53.0},{"series":"Mean L Rad4 (Y2)","time":65.9,"temp":53.8},{"series":"Mean L Rad4 (Y2)","time":66.9,"temp":54.2},{"series":"Mean L Rad4 (Y2)","time":67.9,"temp":54.6},{"series":"Mean L Rad4 (Y2)","time":68.8,"temp":55.0},{"series":"Mean L Rad4 (Y2)","time":69.8,"temp":55.5},{"series":"Mean L Rad4 (Y2)","time":70.8,"temp":56.4},{"series":"Mean L Rad4 (Y2)","time":71.4,"temp":57.3},{"series":"Mean L Rad4 (Y2)","time":72.2,"temp":58.9},{"series":"Mean L Rad4 (Y2)","time":72.7,"temp":60.1},{"series":"Mean L Rad4 (Y2)","time":72.85,"temp":60.43},{"series":"Mean L Rad4 (Y2)","time":73.5,"temp":60.2},{"series":"Mean L Rad4 (Y2)","time":74.65,"temp":60.12},{"series":"Mean L Rad4 (Y2)","time":75.2,"temp":59.2},{"series":"Mean L Rad4 (Y2)","time":76.1,"temp":56.7},{"series":"Mean L Rad4 (Y2)","time":76.95,"temp":54.3},{"series":"Mean L Rad4 (Y2)","time":77.8,"temp":51.9},{"series":"Mean L Rad4 (Y2)","time":78.3,"temp":50.9},{"series":"Mean L Rad4 (Y2)","time":78.83,"temp":50.1},{"series":"Mean L Rad4 (Y2)","time":79.3,"temp":49.7},{"series":"Mean L Rad4 (Y2)","time":80.0,"temp":49.35},{"series":"Mean L Rad4 (Y2)","time":81.5,"temp":49.15},{"series":"Mean L Rad4 (Y2)","time":83.4,"temp":48.95},{"series":"Mean L Rad4 (Y2)","time":84.55,"temp":48.55},{"series":"Mean L Rad4 (Y2)","time":85.65,"temp":48.1},{"series":"Mean L Rad4 (Y2)","time":86.57,"temp":47.45},{"series":"Mean L Rad4 (Y2)","time":87.5,"temp":46.55},{"series":"Mean L Rad4 (Y2)","time":88.4,"temp":45.15},{"series":"Mean L Rad4 (Y2)","time":89.3,"temp":43.6},{"series":"Mean L Rad4 (Y2)","time":90.0,"temp":42.15},{"series":"Mean L Rad4 (Y2)","time":90.7,"temp":40.95},{"series":"Mean L Rad4 (Y2)","time":91.56,"temp":39.65},{"series":"Mean L Rad4 (Y2)","time":92.4,"temp":38.3},{"series":"Mean L Rad4 (Y2)","time":93.27,"temp":36.95},{"series":"Mean L Rad4 (Y2)","time":93.87,"temp":35.95},{"series":"Mean L Rad4 (Y2)","time":94.4,"temp":35.93},{"series":"Mean L Rad4 (Y2)","time":95.23,"temp":35.95},{"series":"Mean L Rad4 (Y2)","time":95.83,"temp":35.67},{"series":"Mean L Rad4 (Y2)","time":96.69,"temp":35.37},{"series":"Mean L Rad4 (Y2)","time":97.97,"temp":35.24},{"series":"Mean L Rad4 (Y2)","time":99.25,"temp":35.06},{"series":"Mean L Rad4 (Y2)","time":100.1,"temp":34.7},{"series":"Mean L Rad4 (Y2)","time":100.96,"temp":34.35},{"series":"Mean L Rad4 (Y2)","time":101.38,"temp":34.08},{"series":"Mean L Rad4 (Y2)","time":101.9,"temp":33.5},{"series":"Mean L Rad4 (Y2)","time":102.66,"temp":32.8},{"series":"Mean L Rad4 (Y2)","time":103.5,"temp":31.72},{"series":"Mean L Rad4 (Y2)","time":104.2,"temp":30.65},{"series":"Mean L Rad4 (Y2)","time":104.63,"temp":30.3},{"series":"Mean L Rad4 (Y2)","time":105.0,"temp":30.25}
    ]
  },
  "layer": [
    {
      "data": {"name": "upper"},
      "mark": {"type": "line", "strokeWidth": 2.2, "clip": true, "interpolate": "monotone"},
      "encoding": {
        "x": {"field": "time", "type": "quantitative", "scale": {"domain": [52, 105], "nice": false, "zero": false}, "title": "Time [h]", "axis": {"values": [60, 70, 80, 90, 100], "grid": true, "titlePadding": 12}},
        "y": {"field": "temp", "type": "quantitative", "scale": {"domain": [28, 62], "nice": false, "zero": false}, "title": "Temperature [°C]", "axis": {"orient": "left", "values": [30, 35, 40, 45, 50, 55, 60], "grid": true, "titlePadding": 12}},
        "color": {"field": "series", "type": "nominal", "scale": {"domain": ["Mean U Rad1 (Y1)", "Mean U Rad2 (Y1)", "Mean U Rad3 (Y1)", "Mean U Rad4 (Y1)"], "range": ["#1f77b4", "#ff7f0e", "#2ca02c", "#d62728"]}, "legend": {"orient": "top-left"}}
      }
    },
    {
      "data": {"name": "lower"},
      "mark": {"type": "line", "strokeWidth": 2.2, "clip": true, "interpolate": "monotone", "strokeDash": [8.2, 3.6]},
      "encoding": {
        "x": {"field": "time", "type": "quantitative", "scale": {"domain": [52, 105], "nice": false, "zero": false}, "title": "Time [h]"},
        "y": {"field": "temp", "type": "quantitative", "scale": {"domain": [28, 62], "nice": false, "zero": false}, "title": "Temperature [°C]", "axis": {"orient": "right", "values": [30, 35, 40, 45, 50, 55, 60], "grid": false, "titleAngle": -90, "titlePadding": 44}},
        "color": {"field": "series", "type": "nominal", "scale": {"domain": ["Mean L Rad1 (Y2)", "Mean L Rad2 (Y2)", "Mean L Rad3 (Y2)", "Mean L Rad4 (Y2)"], "range": ["#1f77b4", "#ff7f0e", "#2ca02c", "#d62728"]}, "legend": {"orient": "top-right", "symbolDash": [8.2, 3.6]}}
      }
    },
    {
      "data": {"values": [{"time": 55.02, "temp": 39.42, "time2": 56.5, "temp2": 38.19}, {"time": 68.89, "temp": 55.98, "time2": 69.8, "temp2": 55.08}]},
      "mark": {"type": "rule", "color": "#C00000", "strokeWidth": 2.2},
      "encoding": {
        "x": {"field": "time", "type": "quantitative", "scale": {"domain": [52, 105], "nice": false, "zero": false}, "title": "Time [h]"},
        "x2": {"field": "time2"},
        "y": {"field": "temp", "type": "quantitative", "scale": {"domain": [28, 62], "nice": false, "zero": false}, "axis": null},
        "y2": {"field": "temp2"}
      }
    },
    {
      "data": {"values": [{"time": 81.37, "temp": 48.19, "time2": 82.12, "temp2": 50.14}, {"time": 97.0, "temp": 32.26, "time2": 97.74, "temp2": 34.28}]},
      "mark": {"type": "rule", "color": "#0070C0", "strokeWidth": 2.2},
      "encoding": {
        "x": {"field": "time", "type": "quantitative", "scale": {"domain": [52, 105], "nice": false, "zero": false}, "title": "Time [h]"},
        "x2": {"field": "time2"},
        "y": {"field": "temp", "type": "quantitative", "scale": {"domain": [28, 62], "nice": false, "zero": false}, "axis": null},
        "y2": {"field": "temp2"}
      }
    },
    {
      "data": {"values": [{"time": 66.85, "temp": 30.0, "time2": 88.52, "temp2": 35.17}]},
      "mark": {"type": "rect", "fill": "white", "stroke": "black", "strokeWidth": 2},
      "encoding": {
        "x": {"field": "time", "type": "quantitative", "scale": {"domain": [52, 105], "nice": false, "zero": false}, "title": "Time [h]"},
        "x2": {"field": "time2"},
        "y": {"field": "temp", "type": "quantitative", "scale": {"domain": [28, 62], "nice": false, "zero": false}, "axis": null},
        "y2": {"field": "temp2"}
      }
    },
    {
      "data": {"values": [{"line": "Parallel flow generate 10% more power", "time": 67.4, "temp": 33.68}, {"line": "than serial due to higher flow rate", "time": 67.4, "temp": 32.13}, {"line": "(800 à 900 l/h)", "time": 67.4, "temp": 30.58}]},
      "mark": {"type": "text", "font": "Open Sans", "fontSize": 42, "align": "left", "baseline": "alphabetic", "color": "black"},
      "encoding": {
        "x": {"field": "time", "type": "quantitative", "scale": {"domain": [52, 105], "nice": false, "zero": false}, "title": "Time [h]"},
        "y": {"field": "temp", "type": "quantitative", "scale": {"domain": [28, 62], "nice": false, "zero": false}, "axis": null},
        "text": {"field": "line"}
      }
    },
    {"data": {"values": [{"label": "Upper radiator", "time": 54.72, "temp": 39.85}]}, "mark": {"type": "text", "font": "Open Sans", "fontSize": 41, "align": "center", "baseline": "middle", "color": "#C00000", "angle": -50},
      "encoding": {"x": {"field": "time", "type": "quantitative", "scale": {"domain": [52, 105], "nice": false, "zero": false}, "title": "Time [h]"}, "y": {"field": "temp", "type": "quantitative", "scale": {"domain": [28, 62], "nice": false, "zero": false}, "axis": null}, "text": {"field": "label"}}},
    {"data": {"values": [{"label": "Lower radiator", "time": 59.63, "temp": 35.78}]}, "mark": {"type": "text", "font": "Open Sans", "fontSize": 41, "align": "center", "baseline": "middle", "color": "#0070C0", "angle": -40},
      "encoding": {"x": {"field": "time", "type": "quantitative", "scale": {"domain": [52, 105], "nice": false, "zero": false}, "title": "Time [h]"}, "y": {"field": "temp", "type": "quantitative", "scale": {"domain": [28, 62], "nice": false, "zero": false}, "axis": null}, "text": {"field": "label"}}},
    {"data": {"values": [{"label": "Container 37°C", "time": 61.72, "temp": 33.95}]}, "mark": {"type": "text", "font": "Open Sans", "fontSize": 41, "align": "center", "baseline": "middle", "color": "black", "angle": -39},
      "encoding": {"x": {"field": "time", "type": "quantitative", "scale": {"domain": [52, 105], "nice": false, "zero": false}, "title": "Time [h]"}, "y": {"field": "temp", "type": "quantitative", "scale": {"domain": [28, 62], "nice": false, "zero": false}, "axis": null}, "text": {"field": "label"}}},
    {"data": {"values": [{"label": "Upper radiator", "time": 67.53, "temp": 56.36}]}, "mark": {"type": "text", "font": "Open Sans", "fontSize": 41, "align": "center", "baseline": "middle", "color": "#C00000", "angle": -36},
      "encoding": {"x": {"field": "time", "type": "quantitative", "scale": {"domain": [52, 105], "nice": false, "zero": false}, "title": "Time [h]"}, "y": {"field": "temp", "type": "quantitative", "scale": {"domain": [28, 62], "nice": false, "zero": false}, "axis": null}, "text": {"field": "label"}}},
    {"data": {"values": [{"label": "Lower radiator", "time": 70.66, "temp": 53.37}]}, "mark": {"type": "text", "font": "Open Sans", "fontSize": 41, "align": "center", "baseline": "middle", "color": "#0070C0", "angle": -41},
      "encoding": {"x": {"field": "time", "type": "quantitative", "scale": {"domain": [52, 105], "nice": false, "zero": false}, "title": "Time [h]"}, "y": {"field": "temp", "type": "quantitative", "scale": {"domain": [28, 62], "nice": false, "zero": false}, "axis": null}, "text": {"field": "label"}}},
    {"data": {"values": [{"label": "Container 53°C", "time": 71.14, "temp": 51.09}]}, "mark": {"type": "text", "font": "Open Sans", "fontSize": 41, "align": "center", "baseline": "middle", "color": "black", "angle": -40},
      "encoding": {"x": {"field": "time", "type": "quantitative", "scale": {"domain": [52, 105], "nice": false, "zero": false}, "title": "Time [h]"}, "y": {"field": "temp", "type": "quantitative", "scale": {"domain": [28, 62], "nice": false, "zero": false}, "axis": null}, "text": {"field": "label"}}},
    {"data": {"values": [{"label": "Container 53°C", "time": 85.04, "temp": 54.26}]}, "mark": {"type": "text", "font": "Open Sans", "fontSize": 41, "align": "center", "baseline": "middle", "color": "black", "angle": 15},
      "encoding": {"x": {"field": "time", "type": "quantitative", "scale": {"domain": [52, 105], "nice": false, "zero": false}, "title": "Time [h]"}, "y": {"field": "temp", "type": "quantitative", "scale": {"domain": [28, 62], "nice": false, "zero": false}, "axis": null}, "text": {"field": "label"}}},
    {"data": {"values": [{"label": "Upper radiator", "time": 85.0, "temp": 51.16}]}, "mark": {"type": "text", "font": "Open Sans", "fontSize": 41, "align": "center", "baseline": "middle", "color": "#C00000", "angle": 16.5},
      "encoding": {"x": {"field": "time", "type": "quantitative", "scale": {"domain": [52, 105], "nice": false, "zero": false}, "title": "Time [h]"}, "y": {"field": "temp", "type": "quantitative", "scale": {"domain": [28, 62], "nice": false, "zero": false}, "axis": null}, "text": {"field": "label"}}},
    {"data": {"values": [{"label": "Lower radiator", "time": 80.45, "temp": 47.79}]}, "mark": {"type": "text", "font": "Open Sans", "fontSize": 41, "align": "center", "baseline": "middle", "color": "#0070C0", "angle": 16.5},
      "encoding": {"x": {"field": "time", "type": "quantitative", "scale": {"domain": [52, 105], "nice": false, "zero": false}, "title": "Time [h]"}, "y": {"field": "temp", "type": "quantitative", "scale": {"domain": [28, 62], "nice": false, "zero": false}, "axis": null}, "text": {"field": "label"}}},
    {"data": {"values": [{"label": "Container 37°C", "time": 99.23, "temp": 38.18}]}, "mark": {"type": "text", "font": "Open Sans", "fontSize": 41, "align": "center", "baseline": "middle", "color": "black", "angle": 11},
      "encoding": {"x": {"field": "time", "type": "quantitative", "scale": {"domain": [52, 105], "nice": false, "zero": false}, "title": "Time [h]"}, "y": {"field": "temp", "type": "quantitative", "scale": {"domain": [28, 62], "nice": false, "zero": false}, "axis": null}, "text": {"field": "label"}}},
    {"data": {"values": [{"label": "Upper radiator", "time": 98.85, "temp": 36.16}]}, "mark": {"type": "text", "font": "Open Sans", "fontSize": 41, "align": "center", "baseline": "middle", "color": "#C00000", "angle": 12},
      "encoding": {"x": {"field": "time", "type": "quantitative", "scale": {"domain": [52, 105], "nice": false, "zero": false}, "title": "Time [h]"}, "y": {"field": "temp", "type": "quantitative", "scale": {"domain": [28, 62], "nice": false, "zero": false}, "axis": null}, "text": {"field": "label"}}},
    {"data": {"values": [{"label": "Lower radiator", "time": 96.06, "temp": 31.78}]}, "mark": {"type": "text", "font": "Open Sans", "fontSize": 41, "align": "center", "baseline": "middle", "color": "#0070C0", "angle": 15},
      "encoding": {"x": {"field": "time", "type": "quantitative", "scale": {"domain": [52, 105], "nice": false, "zero": false}, "title": "Time [h]"}, "y": {"field": "temp", "type": "quantitative", "scale": {"domain": [28, 62], "nice": false, "zero": false}, "axis": null}, "text": {"field": "label"}}},
    {
      "data": {"values": [{"time": 63.46, "temp": 61.56, "time2": 93.26, "temp2": 64.5}]},
      "mark": {"type": "rect", "fill": "white", "stroke": "black", "strokeWidth": 2, "clip": false},
      "encoding": {
        "x": {"field": "time", "type": "quantitative", "scale": {"domain": [52, 105], "nice": false, "zero": false}, "title": "Time [h]"},
        "x2": {"field": "time2"},
        "y": {"field": "temp", "type": "quantitative", "scale": {"domain": [28, 62], "nice": false, "zero": false}, "axis": null},
        "y2": {"field": "temp2"}
      }
    },
    {
      "data": {"values": [{"label": "Parallel charge and discharge of 37°C and 53°C containers", "time": 78.36, "temp": 62.04}]},
      "mark": {"type": "text", "font": "DejaVu Sans", "fontSize": 38, "align": "center", "baseline": "alphabetic", "color": "black", "clip": false},
      "encoding": {
        "x": {"field": "time", "type": "quantitative", "scale": {"domain": [52, 105], "nice": false, "zero": false}, "title": "Time [h]"},
        "y": {"field": "temp", "type": "quantitative", "scale": {"domain": [28, 62], "nice": false, "zero": false}, "axis": null},
        "text": {"field": "label"}
      }
    },
    {
      "data": {"values": [{"label": "20251203_ParallelCycle2_dp.csv", "time": 104.79, "temp": 28.34}]},
      "mark": {"type": "text", "font": "DejaVu Sans", "fontSize": 16, "align": "right", "baseline": "alphabetic", "color": "#aaaaaa", "opacity": 0.8},
      "encoding": {
        "x": {"field": "time", "type": "quantitative", "scale": {"domain": [52, 105], "nice": false, "zero": false}, "title": "Time [h]"},
        "y": {"field": "temp", "type": "quantitative", "scale": {"domain": [28, 62], "nice": false, "zero": false}, "axis": null},
        "text": {"field": "label"}
      }
    }
  ],
  "resolve": {"scale": {"y": "independent", "color": "independent"}}
}
